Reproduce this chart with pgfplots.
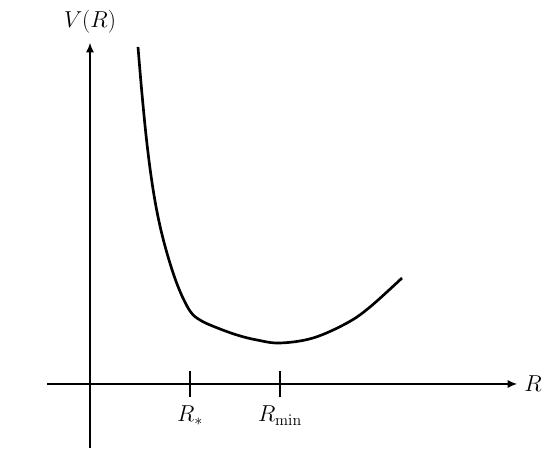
\documentclass[border=0pt]{standalone}
\usepackage{pgfplots}
\pgfplotsset{compat=1.18}
\usetikzlibrary{arrows.meta}
\begin{document}
\begin{tikzpicture}[x=0.75pt,y=0.75pt]
\useasboundingbox (0,0) rectangle (554,460);
\begin{axis}[
  x=0.75pt, y=0.75pt,
  anchor=origin, at={(90,76)},
  axis lines=middle,
  clip=false,
  xmin=-43, xmax=427, ymin=-64, ymax=341,
  axis line style={line width=0.8pt, black},
  every inner x axis line/.append style={-{Latex[length=7pt,width=6pt]}},
  every inner y axis line/.append style={-{Latex[length=7pt,width=6pt]}},
  xtick={100,190}, xticklabels={$R_*$,$R_{\min}$},
  ytick=\empty,
  tick align=center,
  major tick length=20pt,
  tick style={line width=0.8pt, black},
  xticklabel style={font=\fontsize{17}{20}\selectfont, yshift=-3pt},
  xlabel={$R$}, ylabel={$V(R)$},
  xlabel style={font=\fontsize{17}{20}\selectfont, anchor=west, xshift=2pt},
  ylabel style={font=\fontsize{17}{20}\selectfont, anchor=south, yshift=4pt},
]
\addplot[black, line width=2pt, smooth, tension=0.6] coordinates {
(48,337) (52,290) (57,240) (63,195) (70,158) (79,124) (89,95) (100,73)
(110,64) (125,57) (147,49) (167,44) (190,41) (223,46) (257,61) (280,77) (312,106)
};
\end{axis}
\end{tikzpicture}
\end{document}
